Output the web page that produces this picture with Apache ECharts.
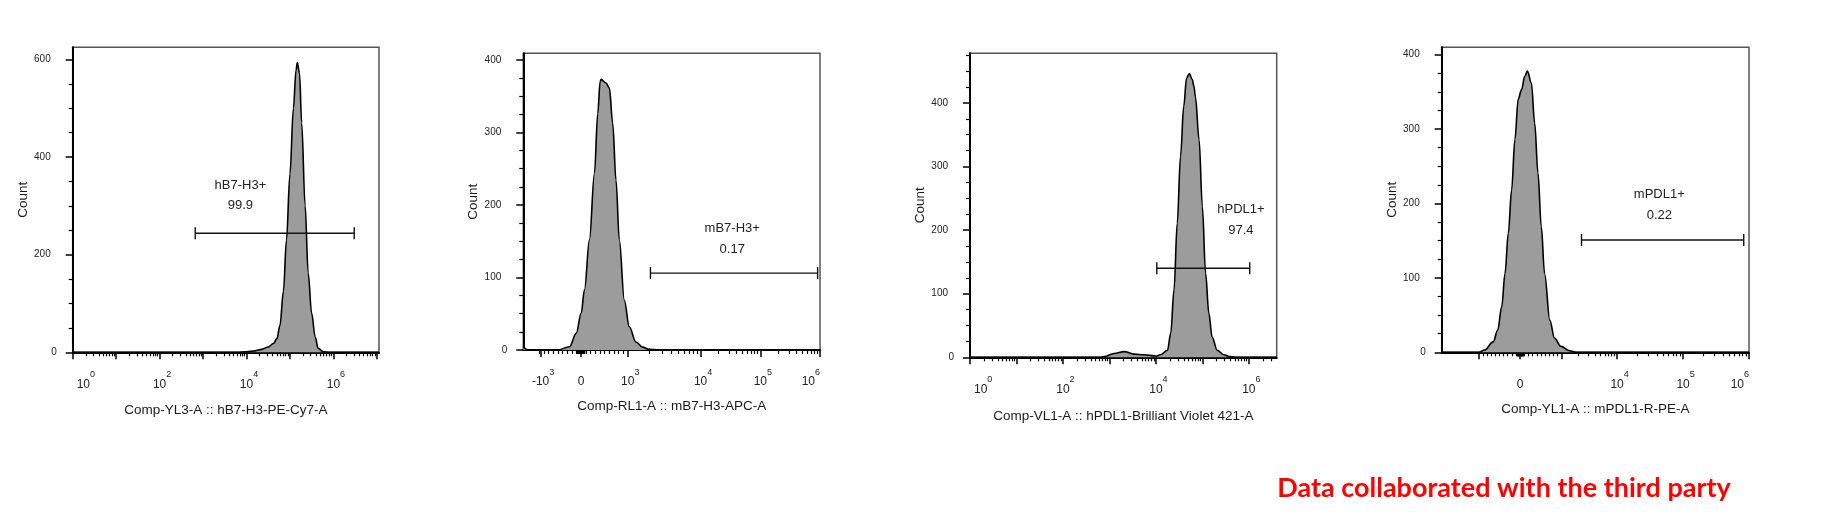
<!DOCTYPE html>
<html><head><meta charset="utf-8">
<script src="https://cdn.jsdelivr.net/npm/echarts@6/dist/echarts.min.js"></script>
<style>html,body{margin:0;padding:0;background:#fff;} #c{width:1830px;height:514px;}</style>
</head><body><div id="c"></div>
<script>
// ---------------- DATA ----------------
// Panel 1 : x in log10 units
const p1Title = 'Comp-YL3-A :: hB7-H3-PE-Cy7-A';
const p1X     = [0, 3.8, 4.0, 4.2, 4.35, 4.5, 4.62, 4.7, 4.77, 4.85, 4.92, 5.0, 5.08, 5.14, 5.17, 5.22, 5.27, 5.35, 5.42, 5.5, 5.58, 5.65, 5.77, 5.9, 7.05];
const p1Count = [0, 0, 1, 3, 6, 11, 18, 28, 55, 125, 230, 365, 500, 578, 594, 572, 470, 300, 162, 80, 32, 8, 1, 0, 0];
const p1Gate  = [2.82, 6.48, 244];
const p1GateName = 'hB7-H3+', p1GatePct = '99.9', p1GateText = [3.86, 341, 300];
const p1TickPos = [0, 2, 4, 6], p1TickText = [['10','0'], ['10','2'], ['10','4'], ['10','6']];

// Panel 2 : biexponential display units
const p2Title = 'Comp-RL1-A :: mB7-H3-APC-A';
const p2X     = [1.03, 1.06, 1.1, 1.6, 1.805, 1.917, 2.0, 2.055, 2.138, 2.222, 2.277, 2.317, 2.333, 2.417, 2.472, 2.527, 2.583, 2.638, 2.722, 2.805, 2.917, 3.027, 3.138, 3.3, 6.0];
const p2Count = [5, 2, 0, 0, 4.5, 23, 51, 83, 152, 244, 326, 370, 373, 368, 361, 313, 234, 152, 69, 32, 11, 4, 1, 0, 0];
const p2Gate  = [3.16, 5.96, 106];
const p2GateName = 'mB7-H3+', p2GatePct = '0.17', p2GateText = [4.53, 167, 138];
const p2TickPos = [1.32, 2.0, 2.78, 4, 5, 6], p2TickText = [['-10','3'], ['0',''], ['10','3'], ['10','4'], ['10','5'], ['10','6']];

// Panel 3 : x in log10 units
const p3Title = 'Comp-VL1-A :: hPDL1-Brilliant Violet 421-A';
const p3X     = [0, 2.8, 2.89, 3.1, 3.32, 3.53, 3.75, 4.0, 4.10, 4.25, 4.32, 4.39, 4.46, 4.53, 4.60, 4.66, 4.72, 4.78, 4.82, 4.85, 4.93, 5.0, 5.07, 5.14, 5.21, 5.32, 5.46, 5.6, 5.75, 6.6];
const p3Count = [0, 0, 1, 6, 9, 5, 4, 2, 4, 11, 38, 106, 211, 316, 395, 439, 446, 437, 426, 410, 342, 237, 132, 69, 32, 11, 4, 1, 0, 0];
const p3Gate  = [4.02, 6.02, 140];
const p3GateName = 'hPDL1+', p3GatePct = '97.4', p3GateText = [5.83, 233, 199];
const p3TickPos = [0, 2, 4, 6], p3TickText = [['10','0'], ['10','2'], ['10','4'], ['10','6']];

// Panel 4 : biexponential display units
const p4Title = 'Comp-YL1-A :: mPDL1-R-PE-A';
const p4X     = [1.34, 1.9, 1.99, 2.12, 2.19, 2.25, 2.30, 2.35, 2.40, 2.45, 2.50, 2.55, 2.60, 2.64, 2.70, 2.75, 2.80, 2.85, 2.90, 2.98, 3.05, 3.15, 3.28, 3.38, 6.0];
const p4Count = [0, 0, 3, 14, 30, 61, 106, 160, 218, 286, 340, 353, 371, 378, 362, 308, 241, 169, 106, 43, 19, 8, 2, 0, 0];
const p4Gate  = [3.46, 5.92, 151];
const p4GateName = 'mPDL1+', p4GatePct = '0.22', p4GateText = [4.64, 212, 184];
const p4TickPos = [2.53, 4, 5, 6], p4TickText = [['0',''], ['10','4'], ['10','5'], ['10','6']];

const yTicks1 = [0, 200, 400, 600];
const yTicks2 = [0, 100, 200, 300, 400];
const footnote = 'Data collaborated with the third party';

// ---------------- LAYOUT / STYLE ----------------
const FONT = "'Liberation Sans', Arial, sans-serif";
const panels = [
  {title:p1Title, x:p1X, y:p1Count, gate:p1Gate, gName:p1GateName, gPct:p1GatePct, gText:p1GateText,
   tickPos:p1TickPos, tickText:p1TickText, mode:'log', xmin:0, xmax:7.05, ymax:625, yTicks:yTicks1, yMinorStep:50,
   box:{left:72.7, top:47.3, width:306.3, height:305}, xGap:51, yGap:42, capPx:6, alignMin:'left', alignMax:'center'},
  {title:p2Title, x:p2X, y:p2Count, gate:p2Gate, gName:p2GateName, gPct:p2GatePct, gText:p2GateText,
   tickPos:p2TickPos, tickText:p2TickText, mode:'biex', zeroPos:2.0, negPos:1.32, posPos:2.78, xmin:1.03, xmax:6.0, ymax:409, yTicks:yTicks2, yMinorStep:25,
   box:{left:523.3, top:53.3, width:296.7, height:296.7}, xGap:49, yGap:40, capPx:6, alignMin:'center', alignMax:'right'},
  {title:p3Title, x:p3X, y:p3Count, gate:p3Gate, gName:p3GateName, gPct:p3GatePct, gText:p3GateText,
   tickPos:p3TickPos, tickText:p3TickText, mode:'log', xmin:0, xmax:6.6, ymax:478, yTicks:yTicks2, yMinorStep:25,
   box:{left:970, top:53.3, width:306.7, height:304}, xGap:52, yGap:41, capPx:6, alignMin:'left', alignMax:'center'},
  {title:p4Title, x:p4X, y:p4Count, gate:p4Gate, gName:p4GateName, gPct:p4GatePct, gText:p4GateText,
   tickPos:p4TickPos, tickText:p4TickText, mode:'biex', zeroPos:2.53, negPos:1.9, posPos:3.16, xmin:1.34, xmax:6.0, ymax:410, yTicks:yTicks2, yMinorStep:25,
   box:{left:1441.7, top:47.3, width:307.3, height:305}, xGap:50, yGap:41, capPx:6, alignMin:'center', alignMax:'right'}
];

function logMinors(lo, hi, start, end) {
  const out = [];
  for (let n = Math.floor(start); n < Math.ceil(end); n++) {
    for (let k = 2; k <= 9; k++) {
      const v = n + Math.log10(k);
      if (v >= lo && v <= hi) out.push(v);
    }
  }
  return out;
}

function buildTicks(p) {
  let majors = [], minors = [];
  if (p.mode === 'log') {
    for (let n = Math.ceil(p.xmin); n <= Math.floor(p.xmax); n++) majors.push(n);
    minors = logMinors(p.xmin, p.xmax, p.xmin, p.xmax);
  } else {
    majors = [p.negPos, p.zeroPos, p.posPos, 4, 5, 6].filter(v => v >= p.xmin && v <= p.xmax);
    minors = logMinors(4, p.xmax, 4, 6);
    const w1 = p.posPos - p.zeroPos, w2 = 4 - p.posPos;
    for (let k = 2; k <= 9; k++) minors.push(p.posPos + w2 * Math.log10(k));
    for (let k = 1; k <= 9; k++) {
      minors.push(p.zeroPos + w1 * k / 10, p.zeroPos - w1 * k / 10);
      minors.push(p.zeroPos + w1 * k / 120, p.zeroPos - w1 * k / 120);
    }
    minors = minors.filter(v => v > p.xmin && v < p.xmax);
  }
  return {majors, minors};
}

const grids = [], xAxes = [], yAxes = [], series = [];
panels.forEach((p, i) => {
  grids.push({left:p.box.left, top:p.box.top, width:p.box.width, height:p.box.height,
    show:true, borderColor:'#555', borderWidth:1.5, backgroundColor:'#fff', containLabel:false, outerBoundsMode:'none'});
  const t = buildTicks(p);
  xAxes.push({
    gridIndex:i, type:'value', min:p.xmin, max:p.xmax, position:'bottom',
    name:p.title, nameLocation:'middle', nameGap:p.xGap,
    nameTextStyle:{fontFamily:FONT, fontSize:13.5, color:'#1a1a1a'},
    axisLine:{show:true, onZero:false, lineStyle:{color:'#000', width:2}},
    axisTick:{show:true, customValues:t.majors, length:7, lineStyle:{color:'#000', width:1.5}},
    axisLabel:{customValues:p.tickPos, margin:18, alignMinLabel:p.alignMin, alignMaxLabel:p.alignMax,
      formatter:(v) => {
        let idx = p.tickPos.findIndex(q => Math.abs(q - v) < 1e-6);
        if (idx < 0) return '';
        const [b, e] = p.tickText[idx];
        if (!e) return '{b|' + b + '}';
        const atMin = Math.abs(v - p.xmin) < 1e-6, atMax = Math.abs(v - p.xmax) < 1e-6;
        return (atMax ? '' : (atMin ? '{s0|}' : '{s|}')) + '{b|' + b + '}{e|' + e + '}';
      },
      rich:{
        b:{fontFamily:FONT, fontSize:12, color:'#222', lineHeight:20, verticalAlign:'bottom'},
        e:{fontFamily:FONT, fontSize:9, color:'#222', verticalAlign:'top'},
        s:{width:5}, s0:{width:4}
      }},
    splitLine:{show:false}
  });
  xAxes.push({
    gridIndex:i, type:'value', min:p.xmin, max:p.xmax, position:'bottom',
    axisLine:{show:false, onZero:false},
    axisTick:{show:true, customValues:t.minors, length:4, lineStyle:{color:'#000', width:1.2}},
    axisLabel:{show:false}, splitLine:{show:false}
  });
  const yMinors = [];
  for (let v = p.yMinorStep; v < p.ymax; v += p.yMinorStep) if (!p.yTicks.includes(v)) yMinors.push(v);
  yAxes.push({
    gridIndex:i, type:'value', min:0, max:p.ymax, position:'left',
    name:'Count', nameLocation:'middle', nameGap:p.yGap, nameRotate:90,
    nameTextStyle:{fontFamily:FONT, fontSize:13.5, color:'#1a1a1a'},
    axisLine:{show:true, onZero:false, lineStyle:{color:'#000', width:2}},
    axisTick:{show:true, customValues:p.yTicks, length:7, lineStyle:{color:'#000', width:1.5}},
    axisLabel:{customValues:p.yTicks, margin:16,
      formatter:(v) => v === 0 ? '{n|0}' : '{n|' + v + '}{sp|}',
      rich:{n:{fontFamily:FONT, fontSize:10, color:'#222'}, sp:{width:6}}},
    splitLine:{show:false}
  });
  yAxes.push({
    gridIndex:i, type:'value', min:0, max:p.ymax, position:'left',
    axisLine:{show:false, onZero:false},
    axisTick:{show:true, customValues:yMinors, length:4, lineStyle:{color:'#000', width:1.2}},
    axisLabel:{show:false}, splitLine:{show:false}
  });
  series.push({
    type:'line', xAxisIndex:2*i, yAxisIndex:2*i, data:p.x.map((v, j) => [v, p.y[j]]),
    smooth:0.35, smoothMonotone:'x', showSymbol:false, symbol:'none',
    lineStyle:{color:'#000', width:1.6}, areaStyle:{color:'#9c9c9c', opacity:1}, z:3, silent:true
  });
  series.push({
    type:'custom', xAxisIndex:2*i, yAxisIndex:2*i, z:5, silent:true,
    data:[[p.gate[0], p.gate[1], p.gate[2], p.gText[0], p.gText[1], p.gText[2]]],
    renderItem:(params, api) => {
      const a = api.coord([api.value(0), api.value(2)]);
      const b = api.coord([api.value(1), api.value(2)]);
      const l1 = api.coord([api.value(3), api.value(4)]);
      const l2 = api.coord([api.value(3), api.value(5)]);
      const st = {stroke:'#111', lineWidth:1.4};
      const c = p.capPx;
      return {type:'group', children:[
        {type:'line', shape:{x1:a[0], y1:a[1], x2:b[0], y2:b[1]}, style:st},
        {type:'line', shape:{x1:a[0], y1:a[1]-c, x2:a[0], y2:a[1]+c}, style:st},
        {type:'line', shape:{x1:b[0], y1:b[1]-c, x2:b[0], y2:b[1]+c}, style:st},
        {type:'text', x:l1[0], y:l1[1], style:{text:p.gName, font:'13px ' + FONT, fill:'#222', align:'center', verticalAlign:'middle'}},
        {type:'text', x:l2[0], y:l2[1], style:{text:p.gPct, font:'13px ' + FONT, fill:'#222', align:'center', verticalAlign:'middle'}}
      ]};
    }
  });
});

const chart = echarts.init(document.getElementById('c'), null, {renderer:'canvas'});
chart.setOption({
  animation:false, backgroundColor:'#fff',
  grid:grids, xAxis:xAxes, yAxis:yAxes, series:series,
  graphic:[{type:'text', x:1504, y:488, style:{text:footnote, font:"bold 27px Lato, 'Open Sans', sans-serif", fill:'#ff0000', align:'center', verticalAlign:'middle'}}]
});
</script></body></html>
